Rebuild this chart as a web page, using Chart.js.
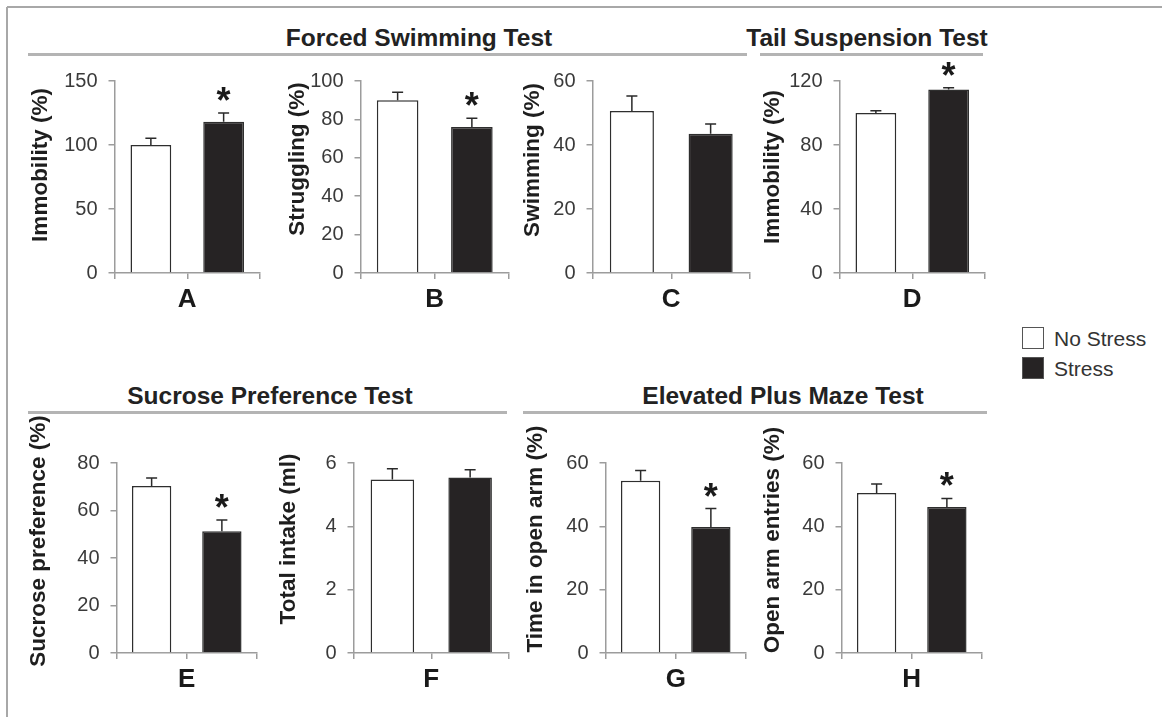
<!DOCTYPE html>
<html>
<head>
<meta charset="utf-8">
<script src="https://cdn.jsdelivr.net/npm/chart.js@4.4.1/dist/chart.umd.min.js"></script>
<style>
  html, body { margin:0; padding:0; background:#fff; }
  body { width:1162px; height:717px; position:relative; overflow:hidden; font-family:"Liberation Sans", Arial, sans-serif; }
  .frameTop { position:absolute; left:7px; top:6px; width:1160px; height:2px; background:#a8a8a8; }
  .frameLeft { position:absolute; left:6px; top:7px; width:2px; height:720px; background:#a8a8a8; }
  .hdr { position:absolute; font-weight:bold; font-size:24.5px; color:#222; white-space:nowrap; transform:translateX(-50%); line-height:24px; }
  .hline { position:absolute; height:3px; background:#b4b4b4; }
  canvas { position:absolute; }
  .lg { position:absolute; left:1054px; font-size:21px; color:#333; line-height:21px; white-space:nowrap; }
  .box { position:absolute; left:1022px; width:20px; height:20px; border:1px solid #555; }
</style>
</head>
<body>
<div class="frameTop"></div>
<div class="frameLeft"></div>
<div id="root"></div>
<script>
// ---------- data ----------
const groups = ['No Stress', 'Stress'];
const panelLetters = ['A', 'B', 'C', 'D', 'E', 'F', 'G', 'H'];
const yTitles = ['Immobility (%)', 'Struggling (%)', 'Swimming (%)', 'Immobility (%)',
                 'Sucrose preference (%)', 'Total intake (ml)', 'Time in open arm (%)', 'Open arm entries (%)'];
const noStressMeans = [100, 90, 50.6, 100, 70.3, 5.48, 54.4, 50.5];
const stressMeans   = [118.2, 76, 43.5, 114.7, 51.3, 5.54, 39.8, 46.1];
const noStressSEM   = [5.2, 4.2, 4.7, 1.4, 3.4, 0.34, 3.2, 2.9];
const stressSEM     = [6.8, 4.6, 3.1, 1.1, 4.7, 0.25, 5.8, 2.7];
const significant   = [true, true, false, true, true, false, true, true];
const yMax  = [150, 100, 60, 120, 80, 6, 60, 60];
const yStep = [50, 20, 20, 40, 20, 2, 20, 20];
const testNames = ['Forced Swimming Test', 'Tail Suspension Test', 'Sucrose Preference Test', 'Elevated Plus Maze Test'];

// ---------- layout (positions only) ----------
const panelLayout = [
  { axisX: 114, axisEnd: 260, top: 81,  bottom: 273, titleDist: 74, titleShift: -12 },
  { axisX: 360, axisEnd: 509, top: 81,  bottom: 273, titleDist: 63, titleShift: -18 },
  { axisX: 592, axisEnd: 750, top: 81,  bottom: 273, titleDist: 60, titleShift: -17 },
  { axisX: 839, axisEnd: 985, top: 81,  bottom: 273, titleDist: 67, titleShift: -10 },
  { axisX: 116, axisEnd: 257, top: 463, bottom: 653, titleDist: 78, titleShift: -17 },
  { axisX: 353, axisEnd: 509, top: 463, bottom: 653, titleDist: 65, titleShift: -19 },
  { axisX: 605, axisEnd: 746, top: 463, bottom: 653, titleDist: 70, titleShift: -19 },
  { axisX: 841, axisEnd: 982, top: 463, bottom: 653, titleDist: 69, titleShift: -18 }
];
const headerLayout = [
  { cx: 419, y: 26,  x1: 28,  x2: 747 },
  { cx: 867, y: 26,  x1: 760, x2: 983 },
  { cx: 270, y: 384, x1: 28,  x2: 507 },
  { cx: 783, y: 384, x1: 523, x2: 987 }
];

const root = document.getElementById('root');
const FONT = '"Liberation Sans", Arial, sans-serif';
const AXIS = '#9c9c9c';
const INK = '#262324';

headerLayout.forEach((h, i) => {
  const d = document.createElement('div');
  d.className = 'hdr'; d.textContent = testNames[i];
  d.style.left = h.cx + 'px'; d.style.top = h.y + 'px';
  root.appendChild(d);
  const l = document.createElement('div');
  l.className = 'hline';
  l.style.left = h.x1 + 'px'; l.style.width = (h.x2 - h.x1) + 'px';
  l.style.top = (h.y + 27) + 'px';
  root.appendChild(l);
});

// legend
[[0, 327], [1, 357]].forEach(([i, y]) => {
  const b = document.createElement('div');
  b.className = 'box'; b.style.top = y + 'px';
  b.style.background = i === 0 ? '#fff' : INK;
  root.appendChild(b);
  const t = document.createElement('div');
  t.className = 'lg'; t.textContent = groups[i];
  t.style.top = (y + 1) + 'px';
  root.appendChild(t);
});

const panelPlugin = {
  id: 'panelExtras',
  afterDatasetsDraw(chart, args, opts) {
    const idx = opts.panel;
    if (idx === undefined) return;
    const ctx = chart.ctx;
    const meta = chart.getDatasetMeta(0);
    const ys = chart.scales.y;
    const means = [noStressMeans[idx], stressMeans[idx]];
    const sems = [noStressSEM[idx], stressSEM[idx]];
    ctx.save();
    ctx.strokeStyle = '#2a2a2a';
    ctx.lineWidth = 1.5;
    meta.data.forEach((bar, i) => {
      const yb = ys.getPixelForValue(means[i]);
      const yt = ys.getPixelForValue(means[i] + sems[i]);
      ctx.beginPath();
      ctx.moveTo(bar.x, yb); ctx.lineTo(bar.x, yt);
      ctx.moveTo(bar.x - 5.5, yt); ctx.lineTo(bar.x + 5.5, yt);
      ctx.stroke();
      if (i === 1 && significant[idx]) {
        ctx.fillStyle = '#1a1a1a';
        ctx.font = 'bold 36px ' + FONT;
        ctx.textAlign = 'center';
        ctx.textBaseline = 'alphabetic';
        ctx.fillText('*', bar.x, yt);
      }
    });
    ctx.restore();
  },
  afterDraw(chart, args, opts) {
    const idx = opts.panel;
    if (idx === undefined) return;
    const s = chart.scales.y;
    const ctx = chart.ctx;
    const ca = chart.chartArea;
    ctx.save();
    ctx.translate(s.left + 11.5, (ca.top + ca.bottom) / 2 + panelLayout[idx].titleShift);
    ctx.rotate(-Math.PI / 2);
    ctx.font = 'bold 22.5px ' + FONT;
    ctx.fillStyle = '#1e1e1e';
    ctx.textAlign = 'center';
    ctx.textBaseline = 'middle';
    ctx.fillText(yTitles[idx], 0, 0);
    ctx.restore();
  }
};

panelLayout.forEach((p, idx) => {
  const PADTOP = 56, XH = 45, PADR = 3;
  const yW = p.titleDist + 11.5;
  const left = Math.round(p.axisX - yW);
  const top = p.top - PADTOP;
  const w = p.axisEnd + PADR - left;
  const h = (p.bottom - p.top) + PADTOP + XH;
  const cv = document.createElement('canvas');
  cv.width = w; cv.height = h;
  cv.style.left = left + 'px'; cv.style.top = top + 'px';
  cv.style.width = w + 'px'; cv.style.height = h + 'px';
  root.appendChild(cv);
  new Chart(cv, {
    type: 'bar',
    data: {
      labels: groups,
      datasets: [{
        data: [noStressMeans[idx], stressMeans[idx]],
        backgroundColor: ['#ffffff', INK],
        borderColor: '#2e2e2e',
        borderWidth: 1.5,
        barPercentage: 0.56,
        categoryPercentage: 1.0
      }]
    },
    options: {
      responsive: false,
      animation: false,
      devicePixelRatio: 1,
      layout: { padding: { top: PADTOP, right: PADR, left: 0, bottom: 0 } },
      plugins: { legend: { display: false }, tooltip: { enabled: false }, panelExtras: { panel: idx } },
      scales: {
        x: {
          grid: { display: true, offset: true, drawOnChartArea: false, drawTicks: true, tickLength: 6, color: AXIS, lineWidth: 1.5 },
          border: { display: true, color: AXIS, width: 1.5 },
          ticks: { display: false },
          title: { display: true, text: panelLetters[idx], color: '#1a1a1a',
                   font: { family: FONT, size: 26, weight: 'bold', lineHeight: 1 },
                   padding: { top: 0, bottom: 5 } },
          afterFit: s => { s.height = XH; }
        },
        y: {
          min: 0, max: yMax[idx],
          ticks: { stepSize: yStep[idx], color: '#3a3a3a', padding: 11,
                   font: { family: FONT, size: 20 } },
          grid: { display: true, drawOnChartArea: false, drawTicks: true, tickLength: 6, color: AXIS, lineWidth: 1.5 },
          border: { display: true, color: AXIS, width: 1.5 },
          title: { display: false },
          afterFit: s => { s.width = yW; }
        }
      }
    },
    plugins: [panelPlugin]
  });
});
</script>
</body>
</html>
